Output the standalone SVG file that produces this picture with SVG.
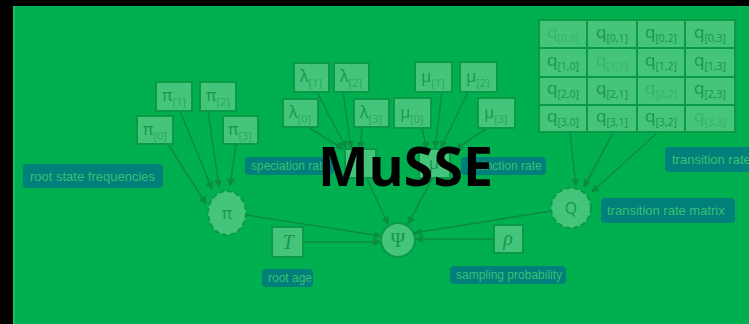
<svg xmlns="http://www.w3.org/2000/svg" width="749" height="324" viewBox="0 0 749 324">
<defs>
<style>
.bx{fill:#45C47B;stroke:#0A9944;stroke-width:2}
.v{font-family:"Open Sans","DejaVu Sans",sans-serif;font-size:16px;fill:#17964A;text-anchor:middle}
.sub{font-size:11px;fill:#2AA85C}
.q{font-family:"Open Sans","DejaVu Sans",sans-serif;font-size:17px;fill:#17964A;text-anchor:middle}
.qs{font-size:10.5px}
.fd{opacity:0.35}
.e{stroke:#0B8C42;stroke-width:1.6;fill:none;marker-end:url(#ah)}
.lb{fill:#00807A}
.lt{font-family:"Liberation Sans",Arial,sans-serif;fill:#3DBE73}
.circ{fill:#45C47B;stroke:#0A9944;stroke-width:2}
.dash{stroke-dasharray:5 3}
.m{font-family:"Liberation Serif","DejaVu Serif",serif;font-style:italic;font-size:20px;fill:#17964A;text-anchor:middle}
</style>
<marker id="ah" viewBox="0 0 10 10" refX="9" refY="5" markerWidth="8" markerHeight="8" markerUnits="userSpaceOnUse" orient="auto">
<path d="M0,0 L10,5 L0,10 z" fill="#0B8C42"/>
</marker>
</defs>
<rect x="0" y="0" width="749" height="324" fill="#000"/>
<rect x="13" y="6" width="736" height="318" fill="#00B050"/>
<rect x="13" y="6" width="2" height="318" fill="#20BC62"/>

<g id="connectors">
<path class="e" d="M168,144 L206,204"/>
<path class="e" d="M180,111 L212,189"/>
<path class="e" d="M208,111 L219,187"/>
<path class="e" d="M236,144 L230,186"/>
<path class="e" d="M308,127 L343,149"/>
<path class="e" d="M317,92 L346,148"/>
<path class="e" d="M343,92 L351,148"/>
<path class="e" d="M362,127 L360,149"/>
<path class="e" d="M422,128 L427,149"/>
<path class="e" d="M442,92 L435,148"/>
<path class="e" d="M468,92 L441,148"/>
<path class="e" d="M487,128 L456,149"/>
<path class="e" d="M367,179 L388,224"/>
<path class="e" d="M432,179 L408,224"/>
<path class="e" d="M246,215 L381,236"/>
<path class="e" d="M551,211 L414,233"/>
<path class="e" d="M303,242 L380,242"/>
<path class="e" d="M494,239 L416,239"/>
<path class="e" d="M570,133 L576,186"/>
<path class="e" d="M613,133 L584,187"/>
<path class="e" d="M657,133 L592,192"/>
</g>

<g id="pi0"><rect class="bx" x="137" y="116" width="36" height="28"/><text class="v" x="155" y="135">π<tspan class="sub" dy="5">[0]</tspan></text></g>
<g id="pi1"><rect class="bx" x="156" y="82" width="36" height="29"/><text class="v" x="174" y="101">π<tspan class="sub" dy="5">[1]</tspan></text></g>
<g id="pi2"><rect class="bx" x="200" y="82" width="36" height="29"/><text class="v" x="218" y="101">π<tspan class="sub" dy="5">[2]</tspan></text></g>
<g id="pi3"><rect class="bx" x="223" y="116" width="35" height="28"/><text class="v" x="240" y="135">π<tspan class="sub" dy="5">[3]</tspan></text></g>

<g id="lam0"><rect class="bx" x="283" y="99" width="35" height="28"/><text class="v" x="300" y="118">λ<tspan class="sub" dy="5">[0]</tspan></text></g>
<g id="lam1"><rect class="bx" x="294" y="63" width="35" height="29"/><text class="v" x="311" y="82">λ<tspan class="sub" dy="5">[1]</tspan></text></g>
<g id="lam2"><rect class="bx" x="334" y="63" width="35" height="29"/><text class="v" x="351" y="82">λ<tspan class="sub" dy="5">[2]</tspan></text></g>
<g id="lam3"><rect class="bx" x="354" y="99" width="35" height="28"/><text class="v" x="371" y="118">λ<tspan class="sub" dy="5">[3]</tspan></text></g>

<g id="mu0"><rect class="bx" x="394" y="98" width="37" height="30"/><text class="v" x="412" y="118">μ<tspan class="sub" dy="5">[0]</tspan></text></g>
<g id="mu1"><rect class="bx" x="415" y="62" width="37" height="30"/><text class="v" x="433" y="82">μ<tspan class="sub" dy="5">[1]</tspan></text></g>
<g id="mu2"><rect class="bx" x="460" y="62" width="37" height="30"/><text class="v" x="478" y="82">μ<tspan class="sub" dy="5">[2]</tspan></text></g>
<g id="mu3"><rect class="bx" x="478" y="98" width="37" height="30"/><text class="v" x="496" y="118">μ<tspan class="sub" dy="5">[3]</tspan></text></g>

<g id="lambda"><rect class="bx" x="345" y="149" width="31" height="29"/><text class="v" x="360" y="169">λ</text></g>
<g id="mu"><rect class="bx" x="419" y="149" width="31" height="29"/><text class="v" x="434" y="169">μ</text></g>

<g id="qmatrix">
<rect class="bx" x="539" y="20" width="48" height="28"/><rect class="bx" x="587" y="20" width="50" height="28"/><rect class="bx" x="637" y="20" width="48" height="28"/><rect class="bx" x="685" y="20" width="50" height="28"/>
<rect class="bx" x="539" y="48" width="48" height="29"/><rect class="bx" x="587" y="48" width="50" height="29"/><rect class="bx" x="637" y="48" width="48" height="29"/><rect class="bx" x="685" y="48" width="50" height="29"/>
<rect class="bx" x="539" y="77" width="48" height="28"/><rect class="bx" x="587" y="77" width="50" height="28"/><rect class="bx" x="637" y="77" width="48" height="28"/><rect class="bx" x="685" y="77" width="50" height="28"/>
<rect class="bx" x="539" y="105" width="48" height="27"/><rect class="bx" x="587" y="105" width="50" height="27"/><rect class="bx" x="637" y="105" width="48" height="27"/><rect class="bx" x="685" y="105" width="50" height="27"/>
<text class="q fd" x="563" y="38">q<tspan class="qs" dy="4">[0,0]</tspan></text>
<text class="q" x="612" y="38">q<tspan class="qs" dy="4">[0,1]</tspan></text>
<text class="q" x="661" y="38">q<tspan class="qs" dy="4">[0,2]</tspan></text>
<text class="q" x="710" y="38">q<tspan class="qs" dy="4">[0,3]</tspan></text>
<text class="q" x="563" y="66">q<tspan class="qs" dy="4">[1,0]</tspan></text>
<text class="q fd" x="612" y="66">q<tspan class="qs" dy="4">[1,1]</tspan></text>
<text class="q" x="661" y="66">q<tspan class="qs" dy="4">[1,2]</tspan></text>
<text class="q" x="710" y="66">q<tspan class="qs" dy="4">[1,3]</tspan></text>
<text class="q" x="563" y="94">q<tspan class="qs" dy="4">[2,0]</tspan></text>
<text class="q" x="612" y="94">q<tspan class="qs" dy="4">[2,1]</tspan></text>
<text class="q fd" x="661" y="94">q<tspan class="qs" dy="4">[2,2]</tspan></text>
<text class="q" x="710" y="94">q<tspan class="qs" dy="4">[2,3]</tspan></text>
<text class="q" x="563" y="122">q<tspan class="qs" dy="4">[3,0]</tspan></text>
<text class="q" x="612" y="122">q<tspan class="qs" dy="4">[3,1]</tspan></text>
<text class="q" x="661" y="122">q<tspan class="qs" dy="4">[3,2]</tspan></text>
<text class="q fd" x="710" y="122">q<tspan class="qs" dy="4">[3,3]</tspan></text>
</g>

<g id="pi"><ellipse class="circ dash" cx="227" cy="213" rx="19" ry="22"/><text class="v" x="227" y="219">π</text></g>
<g id="Q"><ellipse class="circ dash" cx="571" cy="208" rx="20" ry="20"/><text class="v" x="571" y="214">Q</text></g>
<g id="Psi"><ellipse class="circ" cx="398" cy="240" rx="17" ry="17"/><text class="m" x="398" y="247" style="font-style:normal">Ψ</text></g>
<g id="T"><rect class="bx" x="272" y="227" width="31" height="30"/><text class="m" x="288" y="249">T</text></g>
<g id="rho"><rect class="bx" x="494" y="225" width="29" height="28"/><text class="m" x="508" y="245">ρ</text></g>

<g id="lbl-root-state"><rect class="lb" x="23" y="164" width="140" height="24" rx="4"/><text class="lt" x="30" y="181" font-size="13">root state frequencies</text></g>
<g id="lbl-speciation"><rect class="lb" x="245" y="157" width="89" height="18" rx="4"/><text class="lt" x="251" y="170" font-size="12">speciation rate</text></g>
<g id="lbl-extinction"><rect class="lb" x="461" y="157" width="85" height="18" rx="4"/><text class="lt" x="467" y="170" font-size="12">extinction rate</text></g>
<g id="lbl-trm-top"><rect class="lb" x="665" y="147" width="100" height="25" rx="4"/><text class="lt" x="672" y="164" font-size="13">transition rate matrix</text></g>
<g id="lbl-trm"><rect class="lb" x="601" y="198" width="134" height="25" rx="4"/><text class="lt" x="607" y="215" font-size="13">transition rate matrix</text></g>
<g id="lbl-root-age"><rect class="lb" x="262" y="269" width="51" height="18" rx="4"/><text class="lt" x="268" y="282" font-size="12">root age</text></g>
<g id="lbl-sampling"><rect class="lb" x="450" y="266" width="116" height="18" rx="4"/><text class="lt" x="456" y="279" font-size="12">sampling probability</text></g>

<g id="title"><text x="318" y="186" font-family="'Open Sans','Liberation Sans',sans-serif" font-weight="bold" font-size="54" textLength="175" lengthAdjust="spacingAndGlyphs" fill="#000">MuSSE</text></g>
</svg>
